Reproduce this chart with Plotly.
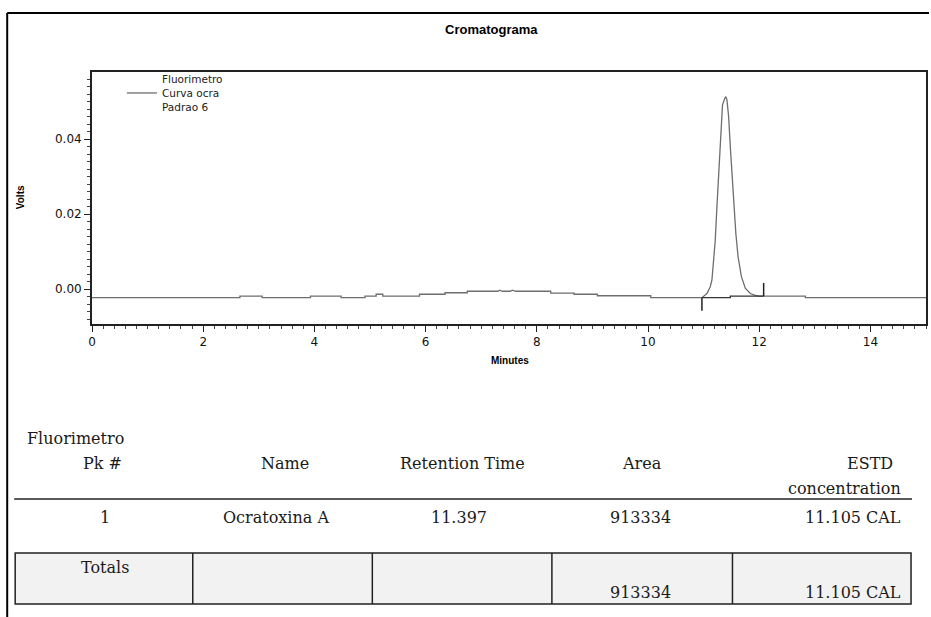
import plotly.graph_objects as go

# ---------------- data ----------------
time_min = [0.00, 2.66, 2.66, 3.06, 3.06, 3.93, 3.93, 4.48, 4.48, 4.91, 4.91, 5.11, 5.11, 5.23, 5.23,
            5.89, 5.89, 6.35, 6.35, 6.75, 6.75, 7.30, 7.33, 7.38, 7.52, 7.56, 7.62, 8.25, 8.25, 8.67,
            8.67, 9.09, 9.09, 10.05, 10.05, 10.97,
            11.06, 11.12, 11.15, 11.18, 11.21, 11.24, 11.27, 11.29, 11.32, 11.34, 11.38, 11.40, 11.42,
            11.45, 11.48, 11.51, 11.54, 11.58, 11.62, 11.68, 11.75, 11.84, 11.93, 12.00, 12.83, 12.83, 15.00]
volts = [-0.0023, -0.0023, -0.0019, -0.0019, -0.0023, -0.0023, -0.0019, -0.0019, -0.0023, -0.0023, -0.0019,
         -0.0019, -0.0014, -0.0014, -0.0019, -0.0019, -0.0014, -0.0014, -0.0010, -0.0010, -0.0006, -0.0006,
         -0.0003, -0.0006, -0.0006, -0.0003, -0.0006, -0.0006, -0.0011, -0.0011, -0.0014, -0.0014, -0.0018,
         -0.0018, -0.0023, -0.0023,
         -0.0012, 0.0006, 0.0024, 0.0068, 0.0131, 0.0220, 0.0300, 0.0380, 0.0451, 0.0491, 0.0508, 0.0513,
         0.0504, 0.0460, 0.0380, 0.0300, 0.0220, 0.0148, 0.0086, 0.0033, 0.0002, -0.0012, -0.0017, -0.0019,
         -0.0019, -0.0023, -0.0023]

# integration baseline under the peak
base_time = [10.97, 11.48, 11.48, 12.08]
base_volts = [-0.0023, -0.0023, -0.0019, -0.0019]
# peak start / end markers
start_time = [10.97, 10.97]
start_volts = [-0.0023, -0.0058]
end_time = [12.08, 12.08]
end_volts = [-0.0019, 0.0016]

x_ticks = [0, 2, 4, 6, 8, 10, 12, 14]
y_ticks = [0.00, 0.02, 0.04]
y_tick_text = ["0.00", "0.02", "0.04"]

detector = "Fluorimetro"
legend_name = "Fluorimetro<br>Curva ocra<br>Padrao 6"
table_header = ["Pk #", "Name", "Retention Time", "Area"]
estd_header = ["ESTD", "concentration"]
peak_row = ["1", "Ocratoxina A", "11.397", "913334", "11.105 CAL"]
totals_row = ["Totals", "", "", "913334", "11.105 CAL"]

# ---------------- layout helpers (pixel -> paper) ----------------
W, H = 931, 617
L, R, T, B = 92, 3, 72, 293
PW, PH = W - L - R, H - T - B


def xp(px):
    return (px - L) / PW


def yp(py):
    return (H - B - py) / PH


fig = go.Figure()
fig.add_trace(go.Scatter(x=time_min, y=volts, mode="lines", name=legend_name,
                         line=dict(color="#6e6e6e", width=1.3)))
fig.add_trace(go.Scatter(x=base_time, y=base_volts, mode="lines", showlegend=False,
                         line=dict(color="#333333", width=1.3)))
fig.add_trace(go.Scatter(x=start_time, y=start_volts, mode="lines", showlegend=False,
                         line=dict(color="#222222", width=1.5)))
fig.add_trace(go.Scatter(x=end_time, y=end_volts, mode="lines", showlegend=False,
                         line=dict(color="#222222", width=1.5)))

sans = "DejaVu Sans"
serif = "DejaVu Serif"

fig.update_layout(
    width=W, height=H,
    margin=dict(l=L, r=R, t=T, b=B, pad=0),
    paper_bgcolor="white", plot_bgcolor="white",
    showlegend=True,
    legend=dict(x=xp(122), y=yp(66), xanchor="left", yanchor="top",
                bgcolor="rgba(0,0,0,0)", font=dict(family=sans, size=10.5, color="#222"),
                valign="middle", tracegroupgap=0),
    xaxis=dict(range=[0, 15], tickvals=x_ticks, ticks="outside", ticklen=6, tickwidth=1.2,
               tickcolor="#222", showgrid=False, zeroline=False, showline=True, mirror=True,
               linecolor="#222", linewidth=1.8,
               tickfont=dict(family=sans, size=12, color="#111"),
               minor=dict(dtick=0.2, tick0=0, ticks="outside", ticklen=3, tickcolor="#444", showgrid=False)),
    yaxis=dict(range=[-(324 - 289) / 3750, (289 - 72) / 3750], tickvals=y_ticks, ticktext=y_tick_text,
               ticks="outside", ticklen=6, tickwidth=1.2, tickcolor="#222",
               showgrid=False, zeroline=False, showline=True, mirror=True,
               linecolor="#222", linewidth=1.8,
               tickfont=dict(family=sans, size=12, color="#111"),
               minor=dict(dtick=0.002, tick0=0, ticks="outside", ticklen=3, tickcolor="#444", showgrid=False)),
)

shapes = []
# outer frame
shapes.append(dict(type="line", xref="paper", yref="paper", x0=xp(7), x1=xp(931), y0=yp(13), y1=yp(13),
                   line=dict(color="black", width=2)))
shapes.append(dict(type="line", xref="paper", yref="paper", x0=xp(7), x1=xp(7), y0=yp(13), y1=yp(617),
                   line=dict(color="black", width=2)))
# table header rule
shapes.append(dict(type="line", xref="paper", yref="paper", x0=xp(14), x1=xp(914), y0=yp(499), y1=yp(499),
                   line=dict(color="#222", width=1.5)))
# totals box
shapes.append(dict(type="rect", xref="paper", yref="paper", x0=xp(15), x1=xp(913), y0=yp(553), y1=yp(604),
                   fillcolor="#f2f2f2", line=dict(color="#222", width=1.5), layer="below"))
for cx in [193, 373, 553, 734]:
    shapes.append(dict(type="line", xref="paper", yref="paper", x0=xp(cx), x1=xp(cx), y0=yp(553), y1=yp(604),
                       line=dict(color="#222", width=1.5)))

ann = []


def text(s, px, py, anchor="center", font=None):
    ann.append(dict(text=s, xref="paper", yref="paper", x=xp(px), y=yp(py), xanchor=anchor,
                    yanchor="middle", showarrow=False, font=font or dict(family=serif, size=16, color="#1a1a1a")))


text("<b>Cromatograma</b>", 492, 30, font=dict(family="Liberation Sans", size=13, color="#000"))
text("<b>Minutes</b>", 511, 360, font=dict(family="Liberation Sans", size=10, color="#000"))
ann.append(dict(text="<b>Volts</b>", xref="paper", yref="paper", x=xp(20), y=yp(197), xanchor="center",
                yanchor="middle", showarrow=False, textangle=-90,
                font=dict(family="Liberation Sans", size=10, color="#000")))

text(detector, 25, 438, anchor="left")
head_x = [103, 285, 463, 643]
for s, cx in zip(table_header, head_x):
    text(s, cx, 463)
text(estd_header[0], 897, 463, anchor="right")
text(estd_header[1], 905, 488, anchor="right")

row_x = [105, 276, 460, 642]
for s, cx in zip(peak_row[:4], row_x):
    text(s, cx, 517)
text(peak_row[4], 905, 517, anchor="right")

text(totals_row[0], 105, 567)
text(totals_row[3], 642, 592)
text(totals_row[4], 905, 592, anchor="right")

fig.update_layout(shapes=shapes, annotations=ann)
fig.write_html("out.html", config={"displayModeBar": False},
               post_script="document.body.style.margin='0';document.body.style.padding='0';"
                           "document.documentElement.style.overflow='hidden';")
